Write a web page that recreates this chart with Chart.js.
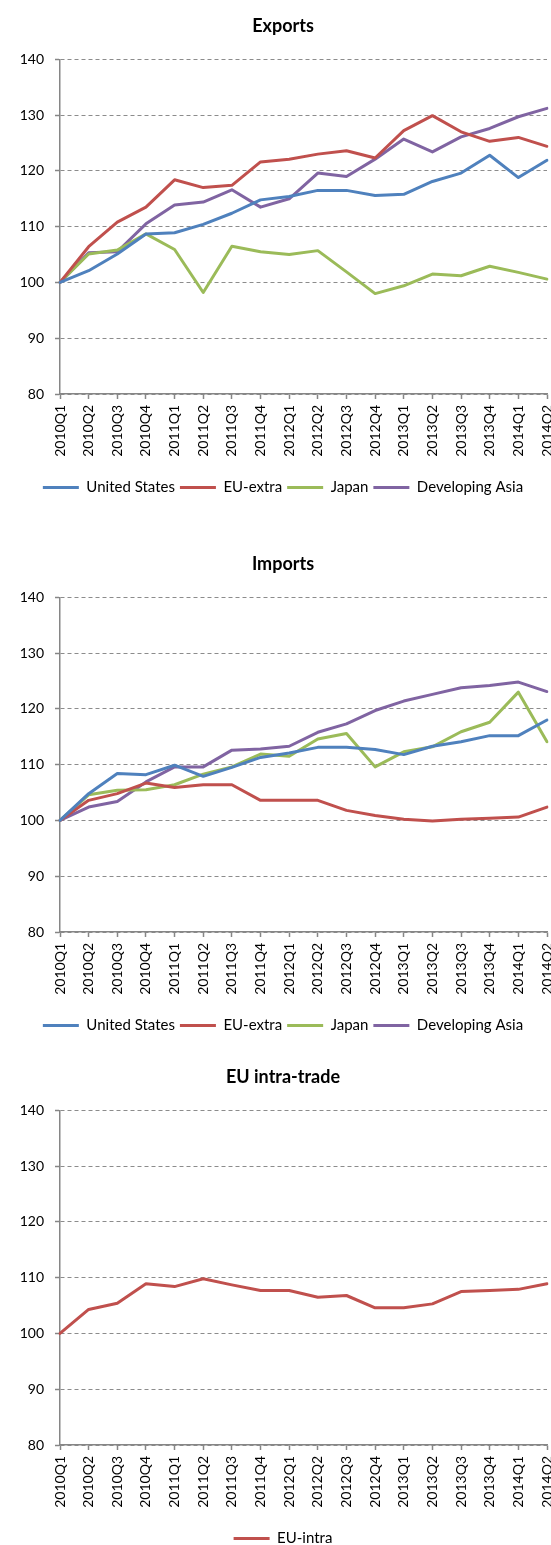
<!DOCTYPE html>
<html>
<head>
<meta charset="utf-8">
<script src="https://cdn.jsdelivr.net/npm/chart.js@4.4.1/dist/chart.umd.min.js"></script>
<style>
  html, body { margin: 0; padding: 0; background: #fff; overflow: hidden; width: 551px; height: 1545px; }
  .box { position: absolute; left: 0; width: 551px; }
  canvas { display: block; }
</style>
</head>
<body>
<div class="box" style="top:0px"><canvas id="c1" width="551" height="505"></canvas></div>
<div class="box" style="top:538px"><canvas id="c2" width="551" height="505"></canvas></div>
<div class="box" style="top:1051px"><canvas id="c3" width="551" height="505"></canvas></div>
<script>
// ---- Data ----
const quarters = ["2010Q1","2010Q2","2010Q3","2010Q4","2011Q1","2011Q2","2011Q3","2011Q4",
  "2012Q1","2012Q2","2012Q3","2012Q4","2013Q1","2013Q2","2013Q3","2013Q4","2014Q1","2014Q2"];

const yTicks = [80, 90, 100, 110, 120, 130, 140];

// Exports
const exportsUS    = [100,102.1,105.1,108.7,108.9,110.4,112.4,114.8,115.4,116.5,116.5,115.6,115.8,118.1,119.6,122.8,118.8,121.9];
const exportsEU    = [100,106.4,110.8,113.5,118.4,117.0,117.4,121.6,122.1,123.0,123.6,122.3,127.2,129.9,127.0,125.3,126.0,124.4];
const exportsJapan = [100,105.1,105.8,108.7,105.9,98.2,106.5,105.5,105.0,105.7,101.9,98.0,99.4,101.5,101.2,102.9,101.8,100.6];
const exportsAsia  = [100,105.3,105.5,110.5,113.9,114.4,116.6,113.5,115.0,119.6,119.0,122.1,125.7,123.4,126.1,127.6,129.7,131.2];

// Imports
const importsUS    = [100,104.8,108.4,108.2,109.9,107.9,109.5,111.3,112.1,113.1,113.1,112.7,111.8,113.3,114.1,115.2,115.2,118.0];
const importsEU    = [100,103.6,104.8,106.7,105.9,106.4,106.4,103.6,103.6,103.6,101.8,100.9,100.2,99.9,100.2,100.4,100.6,102.4];
const importsJapan = [100,104.6,105.4,105.5,106.4,108.3,109.6,111.9,111.5,114.6,115.6,109.6,112.3,113.2,115.9,117.6,123.0,114.1];
const importsAsia  = [100,102.4,103.4,106.9,109.6,109.6,112.6,112.8,113.3,115.8,117.3,119.7,121.4,122.6,123.8,124.2,124.8,123.1];

// EU intra-trade
const euIntra      = [100,104.3,105.4,108.9,108.4,109.8,108.7,107.7,107.7,106.5,106.8,104.6,104.6,105.3,107.5,107.7,107.9,108.9];

const seriesNames = ["United States","EU-extra","Japan","Developing Asia"];
const seriesColors = ["#4F81BD","#C0504D","#9BBB59","#8064A2"];

// ---- Chart builder ----
const AXIS_GRAY = "#868686";

function lineDs(label, data, color) {
  return {
    label, data,
    borderColor: color, backgroundColor: color,
    borderWidth: 3, pointRadius: 0, pointHoverRadius: 0,
    tension: 0, fill: false,
    borderJoinStyle: "round", borderCapStyle: "round"
  };
}

function makeChart(id, title, datasets) {
  return new Chart(document.getElementById(id), {
    type: "line",
    data: { labels: quarters, datasets },
    options: {
      responsive: false,
      animation: false,
      events: [],
      layout: { padding: { left: 19, right: 4, top: 0, bottom: 0 } },
      plugins: {
        title: {
          display: true, text: title, color: "#000",
          font: { family: "Lato", size: 18, weight: "bold" },
          padding: { top: 15, bottom: 22.7 }
        },
        legend: {
          display: true, position: "bottom",
          labels: {
            color: "#000",
            font: { family: "Lato", size: 15 },
            boxWidth: 36, boxHeight: 3, padding: 5,
            generateLabels: (chart) =>
              Chart.defaults.plugins.legend.labels.generateLabels(chart)
                .map(l => Object.assign({}, l, { lineWidth: 0, fillStyle: l.strokeStyle }))
          }
        },
        tooltip: { enabled: false }
      },
      scales: {
        x: {
          type: "category",
          offset: false,
          grid: {
            drawOnChartArea: false, drawTicks: true,
            tickLength: 5, tickColor: AXIS_GRAY, tickWidth: 1.5
          },
          border: { display: true, color: AXIS_GRAY, width: 1.5 },
          ticks: {
            autoSkip: false, minRotation: 90, maxRotation: 90,
            padding: 6, color: "#000",
            font: { family: "Lato", size: 14 }
          },
          afterFit: (s) => { s.height = 81; s.paddingRight = 0; s.paddingLeft = 0; }
        },
        y: {
          min: 80, max: 140,
          afterBuildTicks: (s) => { s.ticks = yTicks.map(v => ({ value: v })); },
          grid: {
            color: "#8c8c8c", lineWidth: 1,
            drawTicks: true, tickLength: 5, tickColor: AXIS_GRAY, tickWidth: 1.5,
            tickBorderDash: []
          },
          border: { display: true, color: AXIS_GRAY, width: 1.5, dash: [4, 3] },
          ticks: {
            padding: 11, color: "#000",
            font: { family: "Lato", size: 14 }
          },
          afterFit: (s) => { s.width = 41; }
        }
      }
    }
  });
}

function build() {
  makeChart("c1", "Exports", [
    lineDs(seriesNames[0], exportsUS, seriesColors[0]),
    lineDs(seriesNames[1], exportsEU, seriesColors[1]),
    lineDs(seriesNames[2], exportsJapan, seriesColors[2]),
    lineDs(seriesNames[3], exportsAsia, seriesColors[3])
  ]);
  makeChart("c2", "Imports", [
    lineDs(seriesNames[0], importsUS, seriesColors[0]),
    lineDs(seriesNames[1], importsEU, seriesColors[1]),
    lineDs(seriesNames[2], importsJapan, seriesColors[2]),
    lineDs(seriesNames[3], importsAsia, seriesColors[3])
  ]);
  makeChart("c3", "EU intra-trade", [
    lineDs("EU-intra", euIntra, seriesColors[1])
  ]);
}

Promise.all([
  document.fonts.load("14px Lato"),
  document.fonts.load("bold 18px Lato")
]).then(build, build);
</script>
</body>
</html>
